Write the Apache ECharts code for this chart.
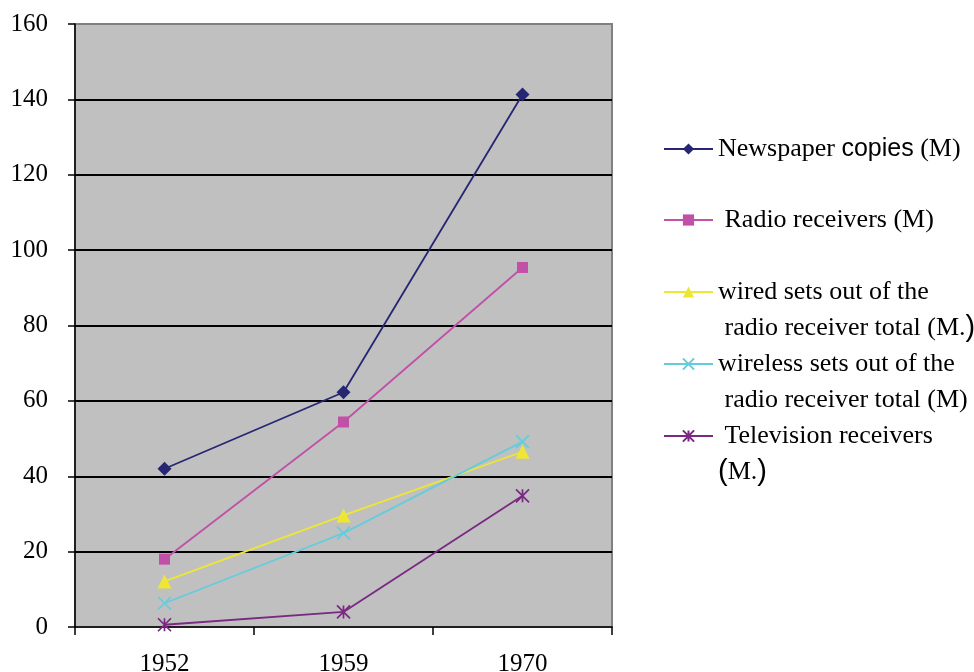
<!DOCTYPE html>
<html>
<head>
<meta charset="utf-8">
<script src="https://cdn.jsdelivr.net/npm/echarts@6/dist/echarts.min.js"></script>
<style>
  html, body { margin: 0; padding: 0; background: #ffffff; }
  #chart { width: 974px; height: 672px; }
</style>
</head>
<body>
<div id="chart"></div>
<script>
// Media in circulation, millions
const years = ['1952', '1959', '1970'];
const newspaperCopies = [42, 62.3, 141.3];
const radioReceivers = [18, 54.4, 95.4];
const wiredSets = [12.1, 29.6, 46.5];
const wirelessSets = [6.3, 24.9, 49.2];
const televisionReceivers = [0.6, 4.0, 34.8];

const seriesNames = [
  'Newspaper copies (M)',
  'Radio receivers (M)',
  'wired sets out of the radio receiver total (M.)',
  'wireless sets out of the radio receiver total (M)',
  'Television receivers (M.)'
];

const serif = '"Liberation Serif", "Times New Roman", serif';
const sans = '"Liberation Sans", Arial, sans-serif';

// Legend labels, with the few words set in a sans face
const legendText = {
  'Newspaper copies (M)': '{t|Newspaper }{s|copies}{t| (M)}',
  'Radio receivers (M)': '{t| Radio receivers (M)}',
  'wired sets out of the radio receiver total (M.)': '{t|wired sets out of the}\n{t| radio receiver total (M.}{p|)}',
  'wireless sets out of the radio receiver total (M)': '{t|wireless sets out of the}\n{t| radio receiver total (M)}',
  'Television receivers (M.)': '{t| Television receivers}\n{p|(}{t|M.}{p|)}'
};

// top edge of each legend block
const legendTops = [131, 202, 238, 310, 382];

const crossPath = 'path://M0,0L10,10M10,0L0,10';
const starPath = 'path://M0,0L10,10M10,0L0,10M5,0L5,10';

function lineSeries(name, data, color, symbol, size, stroked) {
  return {
    name: name,
    type: 'line',
    data: data,
    symbol: symbol,
    symbolSize: size,
    showAllSymbol: true,
    lineStyle: { color: color, width: 1.8 },
    itemStyle: stroked
      ? { color: 'none', borderColor: color, borderWidth: 1.7 }
      : { color: color, borderWidth: 0 },
    emphasis: { disabled: true },
    animation: false
  };
}

const chart = echarts.init(document.getElementById('chart'), null, { renderer: 'canvas' });

const richStyles = {
  t: { fontFamily: serif, fontSize: 26, color: '#000', lineHeight: 36 },
  s: { fontFamily: sans, fontSize: 25, color: '#000', lineHeight: 36 },
  p: { fontFamily: sans, fontSize: 29, color: '#000', lineHeight: 36 }
};

const legends = seriesNames.map(function (name, i) {
  const multi = legendText[name].indexOf('\n') >= 0;
  return {
    data: [name],
    left: 663,
    top: legendTops[i],
    orient: 'vertical',
    padding: 0,
    itemWidth: 49,
    itemHeight: 14,
    itemGap: 0,
    selectedMode: false,
    formatter: function (n) { return legendText[n]; },
    textStyle: {
      fontFamily: serif,
      fontSize: 26,
      color: '#000',
      lineHeight: 36,
      padding: multi ? [36, 0, 0, 0] : 0,
      rich: richStyles
    }
  };
});

chart.setOption({
  backgroundColor: '#ffffff',
  animation: false,
  grid: {
    left: 75,
    right: 362,
    top: 24,
    bottom: 45,
    outerBoundsMode: 'none',
    show: true,
    backgroundColor: '#c0c0c0',
    borderColor: '#808080',
    borderWidth: 2
  },
  legend: legends,
  xAxis: {
    type: 'category',
    data: years,
    boundaryGap: true,
    axisLine: { show: true, lineStyle: { color: '#000', width: 1.5 } },
    axisTick: { show: true, length: 8, lineStyle: { color: '#000', width: 1.5 } },
    axisLabel: { color: '#000', fontFamily: serif, fontSize: 25, margin: 25 },
    splitLine: { show: false }
  },
  yAxis: {
    type: 'value',
    min: 0,
    max: 160,
    interval: 20,
    axisLine: { show: true, lineStyle: { color: '#000', width: 1.5 } },
    axisTick: { show: true, length: 7, lineStyle: { color: '#000', width: 1.5 } },
    axisLabel: { color: '#000', fontFamily: serif, fontSize: 25, margin: 27 },
    splitLine: { show: true, showMinLine: false, showMaxLine: false, lineStyle: { color: '#000', width: 2 } }
  },
  series: [
    lineSeries(seriesNames[0], newspaperCopies, '#262673', 'diamond', 14, false),
    lineSeries(seriesNames[1], radioReceivers, '#c050a8', 'rect', 11, false),
    lineSeries(seriesNames[2], wiredSets, '#eee633', 'triangle', 14, false),
    lineSeries(seriesNames[3], wirelessSets, '#66ccdb', crossPath, 13, true),
    lineSeries(seriesNames[4], televisionReceivers, '#7a2882', starPath, 13, true)
  ]
});
</script>
</body>
</html>
